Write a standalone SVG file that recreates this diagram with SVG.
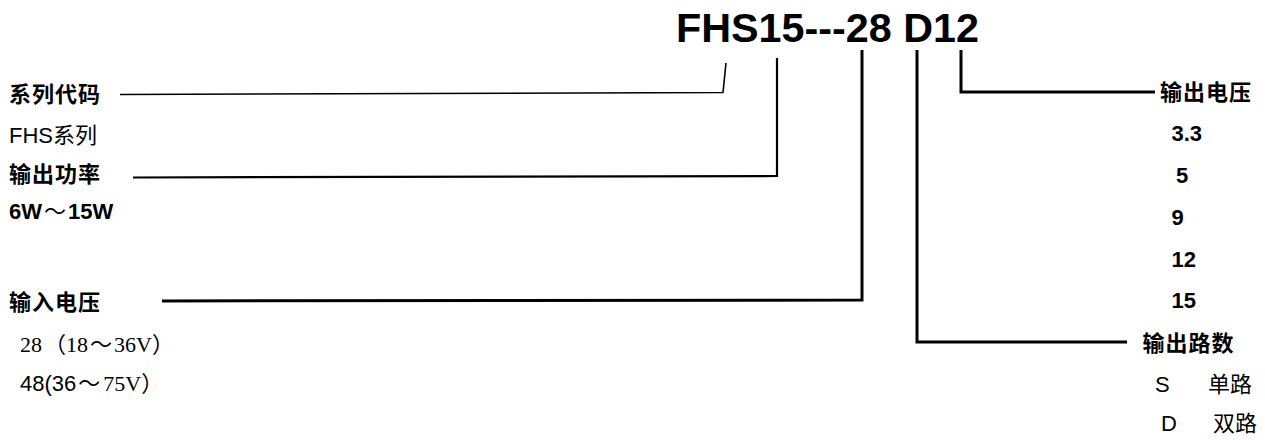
<svg xmlns="http://www.w3.org/2000/svg" width="1265" height="440" viewBox="0 0 1265 440">
<style>
.s{font-family:"Liberation Sans","Noto Sans CJK SC",sans-serif;fill:#000}
.b{font-weight:bold}
.cj{font-family:"Liberation Sans","Noto Sans CJK SC",sans-serif;font-weight:bold;font-size:22px;letter-spacing:1px;fill:#000}
.r{font-family:"Liberation Serif","Noto Sans CJK SC",serif;font-size:22px;fill:#000}
.c{fill:none;stroke:#000;stroke-linejoin:miter}
</style>
<rect width="1265" height="440" fill="#fff"/>
<g id="title"><text class="s b" x="676" y="42" font-size="41.3">FHS15---28 D12</text></g>
<g id="connectors">
<polyline class="c" stroke-width="1.6" points="120,94.5 723,92.5 726,63"/>
<polyline class="c" stroke-width="2.2" points="133,177.5 777,176 777,58"/>
<polyline class="c" stroke-width="3" points="162,301 862,300 862,50"/>
<polyline class="c" stroke-width="3" points="917,50 917,342 1127,342"/>
<polyline class="c" stroke-width="3" points="961,50 961,92 1155,92"/>
</g>
<g id="series">
<text class="cj" x="9" y="101.5">系列代码</text>
<text class="s" x="9" y="143" font-size="22">FHS系列</text>
</g>
<g id="power">
<text class="s b" x="9" y="219" font-size="22">6W<tspan dx="2" font-weight="normal">～</tspan><tspan dx="2">15W</tspan></text>
<text class="cj" x="9" y="182">输出功率</text>
</g>
<g id="input">
<text class="cj" x="9" y="310">输入电压</text>
<text class="r" x="20" y="352">28<tspan dx="2">（</tspan>18<tspan dx="2">～</tspan><tspan dx="2">36V）</tspan></text>
<text class="s" x="20" y="391" font-size="22">48(36<tspan class="r" dx="2">～</tspan><tspan class="r" dx="3">75V）</tspan></text>
</g>
<g id="outvolt">
<text class="cj" x="1160" y="100">输出电压</text>
<text class="s b" x="1171.5" y="141" font-size="22">3.3</text>
<text class="s b" x="1176" y="183" font-size="22">5</text>
<text class="s b" x="1171.5" y="225" font-size="22">9</text>
<text class="s b" x="1171.5" y="267" font-size="22">12</text>
<text class="s b" x="1171.5" y="308" font-size="22">15</text>
</g>
<g id="channels">
<text class="cj" x="1142.5" y="351">输出路数</text>
<text class="s" x="1155" y="392" font-size="22">S</text>
<text class="s" x="1208" y="392" font-size="22">单路</text>
<text class="s" x="1161" y="431" font-size="22">D</text>
<text class="s" x="1213" y="431" font-size="22">双路</text>
</g>
</svg>
